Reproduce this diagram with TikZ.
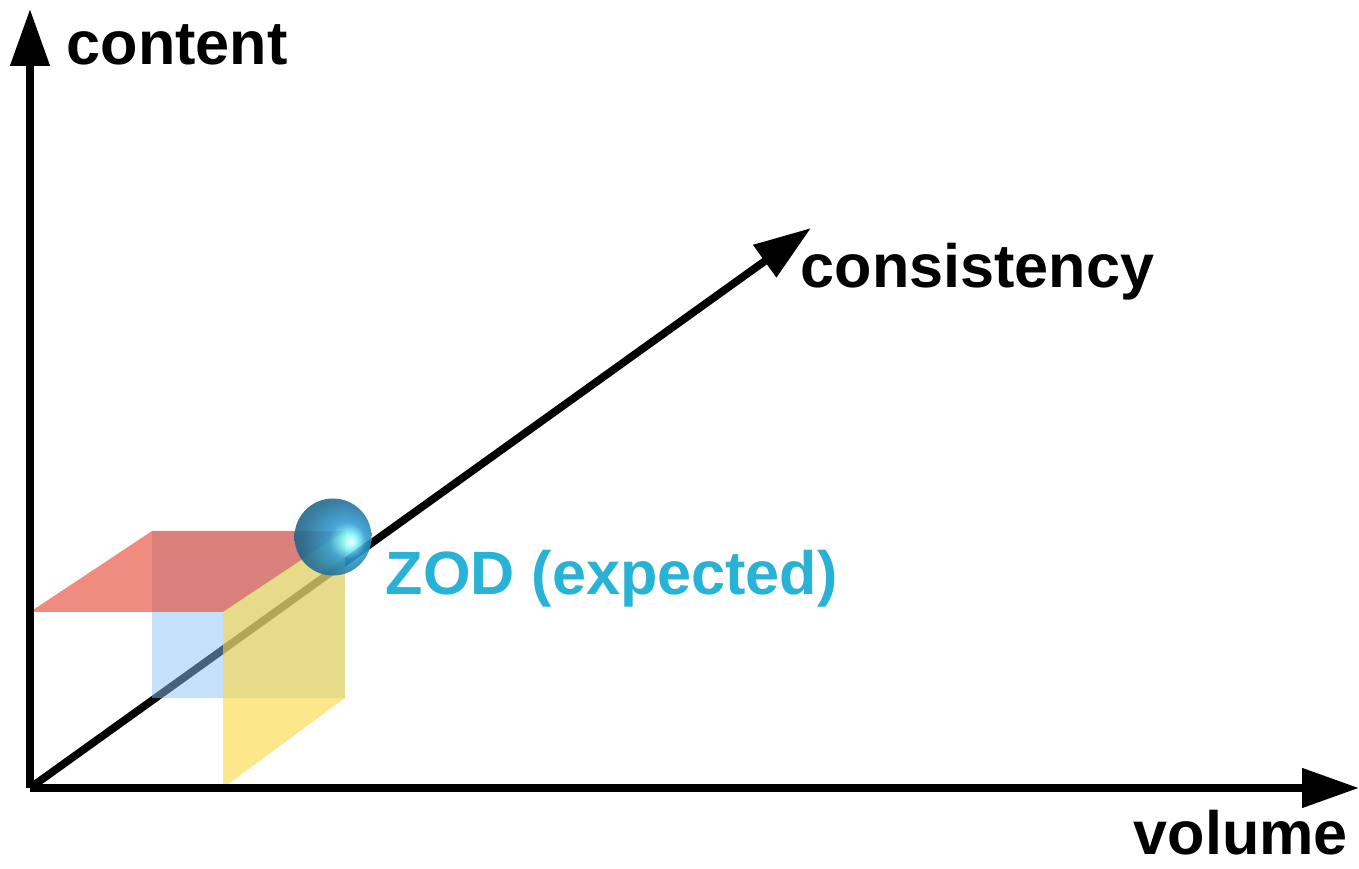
\documentclass[tikz,border=0pt]{standalone}
\usepackage{fontspec}
\setmainfont{Liberation Sans}
\usetikzlibrary{arrows.meta,positioning}
\usetikzlibrary{calc}

\definecolor{zodcyan}{RGB}{40,178,214}
\definecolor{zodball}{RGB}{45,155,212}
\definecolor{topred}{RGB}{230,80,60}
\definecolor{backblue}{RGB}{140,195,245}
\definecolor{sideyellow}{RGB}{250,215,60}

\pgfdeclareradialshading{zodshade}{\pgfqpoint{12bp}{-3bp}}{color(0bp)=(white); color(4bp)=(cyan!45!white); color(12bp)=(zodball); color(25bp)=(zodball!70!black); color(50bp)=(zodball!40!black)}

\tikzset{
  axis/.style={line width=2.2pt,-{Triangle[length=0.57cm,width=0.38cm]}},
  lbl/.style={font=\fontsize{17.4}{20}\selectfont\bfseries,inner sep=0pt,anchor=base west},
}

\begin{document}
\begin{tikzpicture}
\useasboundingbox (-0.30,-0.81) rectangle (13.29,7.88);

\coordinate (O) at (0,0);
\coordinate (ytip) at (0,7.79);
\coordinate (xtip) at (13.29,0);
\coordinate (ztip) at (7.81,5.60);

\draw[axis] (O)--(ztip);

% cube faces
\fill[backblue,opacity=0.5] (1.22,0.90) rectangle (3.15,2.57);
\fill[topred,opacity=0.66] (0,1.76) -- (1.22,2.57) -- (3.15,2.57) -- (1.93,1.76) -- cycle;
\fill[sideyellow,opacity=0.6] (1.93,0) -- (1.93,1.76) -- (3.15,2.57) -- (3.15,0.90) -- cycle;

\draw[axis] (O)--(ytip);
\draw[axis] (O)--(xtip);

\shade[shading=zodshade,opacity=0.88] (3.03,2.51) circle (0.385);

\node[lbl] (content) at (0.36,7.23) {content};
\node[lbl] (consistency) at (7.70,5.00) {consistency};
\node[lbl] (volume) at (11.03,-0.67) {volume};
\node[lbl,text=zodcyan] (zod) at (3.55,1.93) {ZOD (expected)};
\end{tikzpicture}
\end{document}
